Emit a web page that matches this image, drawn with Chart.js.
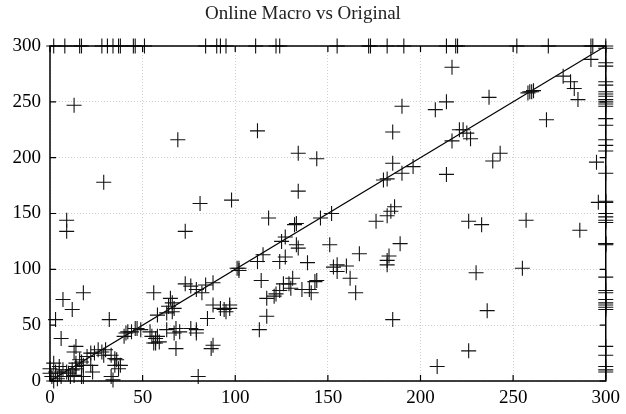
<!DOCTYPE html>
<html>
<head>
<meta charset="utf-8">
<script src="https://cdn.jsdelivr.net/npm/chart.js@4/dist/chart.umd.min.js"></script>
<style>
  html, body { margin: 0; padding: 0; background: #fff; }
  #wrap { width: 626px; height: 414px; }
</style>
</head>
<body>
<div id="wrap"><canvas id="scatter-chart"></canvas></div>
<script>
// ==================================================================
// Data
// ==================================================================

// interior points: original (x) vs online macro (y)
const pointsX = [
  226, 233, 257, 286, 230, 255, 236, 226, 209,
  217, 292, 277, 281, 283, 285, 258, 259, 260, 261, 237, 214, 208, 268, 223, 221, 225, 227, 217, 243, 239, 214, 295, 296,
  190, 185, 112, 134, 144, 185, 196, 190, 180, 182, 98, 134, 186, 184, 182, 176, 118, 133, 132, 146, 152, 127, 125, 133, 134, 151, 167, 189, 183, 182, 182, 115, 112, 127, 124, 139, 102, 102, 153, 155, 155, 160, 162, 165, 114, 131, 129, 130, 126, 124, 122, 117, 121, 140, 143, 136, 141, 144, 97, 97, 185, 117, 113,
  13, 69, 29, 81, 9, 9, 73,
  101, 88, 73, 76, 79, 82, 84, 56, 65, 66, 64, 67, 63, 66, 88, 94, 95, 92, 85, 7, 12, 18, 3, 6, 32, 47, 49, 42, 41, 40, 54, 55, 57, 58, 56, 63, 68, 70, 76, 79, 67, 79, 68, 88, 87, 80,
  26, 28, 30, 24, 29, 33, 36, 38, 35, 33, 34, 18, 16, 14, 20, 22, 18, 22, 2, 58, 14, 13, 17, 14, 12, 9, 14, 0, 3, 5, 1, 4, 6, 2, 0, 7, 5, 11, 13, 10, 23, 17, 37, 35, 44, 46, 59, 57
];
const pointsY = [
  143, 140, 144, 135, 97, 101, 63, 27, 13,
  281, 288, 273, 268, 262, 252, 258, 259, 259, 260, 254, 250, 243, 234, 225, 225, 222, 217, 215, 204, 197, 185, 196, 160,
  246, 223, 224, 204, 199, 195, 192, 186, 180, 181, 162, 170, 156, 152, 148, 143, 146, 141, 140, 146, 150, 129, 125, 122, 119, 122, 114, 123, 112, 108, 104, 113, 107, 111, 107, 106, 99, 101, 102, 98, 104, 103, 92, 79, 90, 92, 87, 83, 87, 81, 78, 74, 76, 82, 89, 82, 79, 90, 68, 65, 55, 58, 46,
  247, 216, 178, 159, 144, 134, 134,
  101, 88, 87, 85, 82, 79, 86, 79, 74, 70, 67, 65, 61, 62, 68, 64, 62, 65, 56, 73, 64, 79, 55, 38, 55, 47, 46, 44, 43, 40, 44, 40, 38, 40, 34, 46, 47, 44, 47, 46, 43, 43, 29, 32, 29, 4,
  28, 26, 28, 25, 23, 23, 19, 14, 14, 4, 1, 4, 19, 16, 22, 25, 14, 14, 16, 59, 31, 26, 17, 13, 10, 8, 11, 11, 8, 7, 4, 2, 4, 0, 7, 10, 13, 4, 5, 7, 8, 4, 11, 20, 44, 47, 35, 34
];

// points stuck on the top border (y = 300)
const topEdgeX = [2, 8, 16, 17, 28, 31, 34, 37, 38, 45, 46, 51, 84, 90, 92, 95, 111, 122, 124,
  155, 172, 173, 182, 191, 214, 219, 220, 252, 269, 292, 293, 300];

// points stuck on the right border (x = 300)
const rightEdgeY = [298, 285, 282, 268, 265, 259, 257, 255, 252, 250, 248, 246, 235, 229, 216, 211,
  206, 186, 161, 160, 150, 147, 144, 142, 123, 123, 122, 93, 81, 79, 73, 70, 68, 66, 64, 31, 23, 13, 10, 8];

const tickValues = [0, 50, 100, 150, 200, 250, 300];
const axisMax = 300;

// ==================================================================
// Build datasets
// ==================================================================

let scatterData = [];
pointsX.map((x, i) => {
  scatterData.push({ x: x, y: pointsY[i] });
});
topEdgeX.map((x) => {
  scatterData.push({ x: x, y: axisMax });
});
rightEdgeY.map((y) => {
  scatterData.push({ x: axisMax, y: y });
});

const diagonal = [
  { x: 0, y: 0 },
  { x: axisMax, y: axisMax },
];

// ==================================================================
// Border box and inward ticks (gnuplot style)
// ==================================================================

const framePlugin = {
  id: "frame",
  afterDraw(chart) {
    const ctx = chart.ctx;
    const a = chart.chartArea;
    const xs = chart.scales.x;
    const ys = chart.scales.y;
    ctx.save();
    ctx.strokeStyle = "#000";
    ctx.lineWidth = 1.5;
    ctx.strokeRect(a.left, a.top, a.right - a.left, a.bottom - a.top);
    ctx.lineWidth = 1.2;
    ctx.beginPath();
    tickValues.map((v) => {
      let px = xs.getPixelForValue(v);
      ctx.moveTo(px, a.bottom);
      ctx.lineTo(px, a.bottom - 6);
      ctx.moveTo(px, a.top);
      ctx.lineTo(px, a.top + 6);
      let py = ys.getPixelForValue(v);
      ctx.moveTo(a.left, py);
      ctx.lineTo(a.left + 6, py);
      ctx.moveTo(a.right, py);
      ctx.lineTo(a.right - 6, py);
    });
    ctx.stroke();
    ctx.restore();
  },
};

const gridStyle = {
  color: "#d0d0d0",
  lineWidth: 1,
  drawTicks: false,
};

const serif = "'Liberation Serif', serif";

let ctxScatter = document.getElementById("scatter-chart").getContext("2d");
let scatterChart = new Chart(ctxScatter, {
  type: "scatter",
  data: {
    datasets: [
      {
        label: "runs",
        data: scatterData,
        pointStyle: "cross",
        pointRadius: 7.5,
        pointHoverRadius: 7.5,
        borderColor: "#111",
        borderWidth: 1.1,
        backgroundColor: "#111",
        clip: false,
      },
      {
        type: "line",
        label: "y = x",
        data: diagonal,
        borderColor: "#000",
        borderWidth: 1.2,
        pointRadius: 0,
        fill: false,
      },
    ],
  },
  options: {
    responsive: true,
    maintainAspectRatio: false,
    animation: false,
    events: [],
    layout: { padding: { left: 0, right: 20, top: 0, bottom: 0 } },
    plugins: {
      legend: { display: false },
      tooltip: { enabled: false },
      title: {
        display: true,
        text: "Online Macro vs Original",
        color: "#222",
        font: { family: serif, size: 19, weight: "normal", lineHeight: 1.2 },
        padding: { top: 3, bottom: 20.2 },
      },
    },
    scales: {
      x: {
        type: "linear",
        min: 0,
        max: axisMax,
        afterBuildTicks: (scale) => {
          scale.ticks = tickValues.map((v) => ({ value: v }));
        },
        afterFit: (scale) => {
          scale.height = 33;
        },
        grid: gridStyle,
        border: { display: false, dash: [1, 2] },
        ticks: {
          color: "#000",
          padding: 6,
          maxRotation: 0,
          font: { family: serif, size: 19 },
        },
      },
      y: {
        type: "linear",
        min: 0,
        max: axisMax,
        afterBuildTicks: (scale) => {
          scale.ticks = tickValues.map((v) => ({ value: v }));
        },
        afterFit: (scale) => {
          scale.width = 50;
        },
        grid: gridStyle,
        border: { display: false, dash: [1, 2] },
        ticks: {
          color: "#000",
          padding: 9,
          font: { family: serif, size: 19 },
        },
      },
    },
  },
  plugins: [framePlugin],
});
</script>
</body>
</html>
